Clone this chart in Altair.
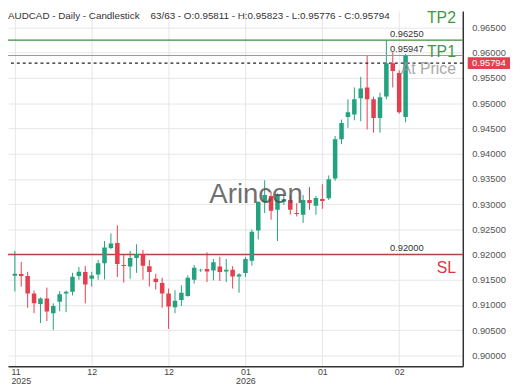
import altair as alt
import pandas as pd

# ---- data ----
opens = [0.91580, 0.91614, 0.91575, 0.91229, 0.91020, 0.91132, 0.90839, 0.91067, 0.91229, 0.91262,
         0.91575, 0.91653, 0.91522, 0.91606, 0.91828, 0.92133, 0.92230, 0.91795, 0.91762, 0.91932,
         0.92010, 0.91770, 0.91522, 0.91438, 0.91229, 0.90956, 0.91099, 0.91177, 0.91502, 0.91688,
         0.91717, 0.91684, 0.91762, 0.91665, 0.91698, 0.91567, 0.91633, 0.91879, 0.92478, 0.93050,
         0.93161, 0.92888, 0.93050, 0.93083, 0.92823, 0.92790, 0.93083, 0.92966, 0.93102, 0.93116,
         0.93506, 0.94287, 0.94728, 0.94775, 0.95099, 0.95313, 0.95079, 0.94708, 0.95132, 0.95795,
         0.95600, 0.94728]
highs = [0.92074, 0.91854, 0.91659, 0.91288, 0.91151, 0.91346, 0.91034, 0.91274, 0.91288, 0.91639,
         0.91756, 0.91776, 0.91659, 0.91893, 0.92269, 0.92420, 0.92581, 0.92010, 0.92074, 0.92205,
         0.92094, 0.91893, 0.91620, 0.91541, 0.91327, 0.91294, 0.91391, 0.91587, 0.91795, 0.91717,
         0.92043, 0.91912, 0.91957, 0.91912, 0.91770, 0.91633, 0.91957, 0.92498, 0.93050, 0.93473,
         0.93245, 0.93214, 0.93180, 0.93180, 0.93019, 0.93180, 0.93337, 0.93161, 0.93395, 0.93571,
         0.94351, 0.94677, 0.95079, 0.95313, 0.95522, 0.95940, 0.95132, 0.95210, 0.96250, 0.96010,
         0.95653, 0.95977]
lows = [0.91268, 0.91366, 0.90946, 0.90839, 0.90644, 0.90683, 0.90507, 0.90878, 0.90859, 0.91190,
        0.91502, 0.91034, 0.91366, 0.91502, 0.91508, 0.92107, 0.91555, 0.91444, 0.91522, 0.91639,
        0.91502, 0.91366, 0.91307, 0.90946, 0.90527, 0.90839, 0.90981, 0.91165, 0.91425, 0.91659,
        0.91458, 0.91489, 0.91477, 0.91458, 0.91327, 0.91243, 0.91555, 0.91781, 0.92302, 0.92823,
        0.92693, 0.92269, 0.92985, 0.92790, 0.92757, 0.92628, 0.92888, 0.92790, 0.92907, 0.93083,
        0.93463, 0.94189, 0.94513, 0.94663, 0.94644, 0.94482, 0.94416, 0.94416, 0.95079, 0.95313,
        0.94794, 0.94624]
closes = [0.91620, 0.91575, 0.91229, 0.91034, 0.91132, 0.90872, 0.90981, 0.91216, 0.91262, 0.91561,
          0.91659, 0.91405, 0.91587, 0.91828, 0.92140, 0.92219, 0.91815, 0.91776, 0.91932, 0.92010,
          0.91781, 0.91653, 0.91458, 0.91229, 0.90970, 0.91087, 0.91243, 0.91541, 0.91737, 0.91698,
          0.91665, 0.91848, 0.91653, 0.91698, 0.91567, 0.91606, 0.91912, 0.92453, 0.93050, 0.93180,
          0.92868, 0.93180, 0.93097, 0.92888, 0.92804, 0.93083, 0.93024, 0.93122, 0.93063, 0.93493,
          0.94287, 0.94611, 0.94820, 0.95079, 0.95294, 0.95079, 0.94708, 0.95118, 0.95795, 0.95639,
          0.94820, 0.95945]

tick_idx = [0, 12, 24, 36, 48, 60]
tick_lines = [["11", "2025"], ["12"], ["12"], ["01", "2026"], ["01"], ["02"]]
y_ticks = [0.900, 0.905, 0.910, 0.915, 0.920, 0.925, 0.930, 0.935, 0.940, 0.945, 0.950, 0.955, 0.960, 0.965]

tp2_price = 0.96250
tp1_price = 0.95947
sl_price = 0.92000
current_price = 0.95794
header = ("AUDCAD - Daily - Candlestick\u00a0\u00a0\u00a0 63/63 - O:0.95811 - H:0.95823 - "
          "L:0.95776 - C:0.95794")
watermark = "Arincen"

# ---- styling ----
GREEN = "#24a27f"
RED = "#e53f4f"
LINE_GREEN = "#3f8f3f"
TEXT_GREEN = "#3f9a3f"
SL_LINE = "#b3443f"
SL_TEXT = "#d9363e"
GRID = "#e6e6e6"
FONT = "Liberation Sans"

df = pd.DataFrame({"i": list(range(len(opens))), "o": opens, "h": highs, "l": lows, "c": closes})
df["dir"] = ["up" if c >= o else "down" for o, c in zip(opens, closes)]

xs = alt.Scale(domain=[-0.30, 69.16], nice=False, zero=False)
ys = alt.Scale(domain=[0.89785, 0.96829], nice=False, zero=False)

label_expr = ""
for v, lines in zip(tick_idx, tick_lines):
    arr = "[" + ",".join("'%s'" % s for s in lines) + "]"
    label_expr += "datum.value == %d ? %s : " % (v, arr)
label_expr += "''"

first_test = "datum.value == %d" % tick_idx[0]
x_axis = alt.Axis(values=tick_idx, labelExpr=label_expr, grid=True, gridColor=GRID, ticks=False,
                  title=None, domainColor="#333333", domainWidth=1.5, labelColor="#444444",
                  labelFontSize=9, labelPadding=1, labelLineHeight=9.2, labelBaseline="top",
                  labelFlush=False,
                  labelAlign={"condition": {"test": first_test, "value": "left"}, "value": "center"},
                  labelOffset={"condition": {"test": first_test, "value": -4}, "value": 0})
y_axis = alt.Axis(orient="right", values=y_ticks, format=".5f", grid=True, gridColor=GRID,
                  ticks=False, title=None, domainColor="#333333", domainWidth=1.5,
                  labelColor="#555555", labelFontSize=9.5, labelPadding=9)

color = alt.Color("dir:N", scale=alt.Scale(domain=["up", "down"], range=[GREEN, RED]), legend=None)

wicks = alt.Chart(df).mark_rule(strokeWidth=1, clip=True).encode(
    x=alt.X("i:Q", scale=xs, axis=x_axis),
    y=alt.Y("l:Q", scale=ys, axis=y_axis),
    y2="h:Q",
    color=color,
)
bodies = alt.Chart(df).mark_bar(size=4.6, clip=True).encode(
    x=alt.X("i:Q", scale=xs, axis=x_axis),
    y=alt.Y("o:Q", scale=ys, axis=y_axis),
    y2="c:Q",
    color=color,
)


def level(price):
    return alt.Chart(pd.DataFrame({"price": [price], "label": ["%.5f" % price]}))


def yenc():
    return alt.Y("price:Q", scale=ys, axis=y_axis)


tp2_line = level(tp2_price).mark_rule(color=LINE_GREEN, strokeWidth=1.2).encode(y=yenc())
tp1_line = level(tp1_price).mark_rule(color="#9a9a9a", strokeWidth=1.2).encode(y=yenc())
sl_line = level(sl_price).mark_rule(color=SL_LINE, strokeWidth=1.5).encode(y=yenc())
cur_line = level(current_price).mark_rule(color="#222222", strokeWidth=1.3, strokeDash=[3, 3]).encode(y=yenc())

value_labels = alt.layer(*[
    level(p).mark_text(align="left", baseline="alphabetic", dy=-3.5, fontSize=9.5, color="#333333").encode(
        x=alt.value(388), y=yenc(), text="label:N")
    for p in [tp2_price, tp1_price, sl_price]
])

tp2_text = level(tp2_price).mark_text(align="right", baseline="alphabetic", dy=-17.5, fontSize=16,
                                      color=TEXT_GREEN).encode(x=alt.value(455), y=yenc(), text=alt.value("TP2"))
tp1_text = level(tp1_price).mark_text(align="right", baseline="alphabetic", dy=1.7, fontSize=16,
                                      color=TEXT_GREEN).encode(x=alt.value(455), y=yenc(), text=alt.value("TP1"))
sl_text = level(sl_price).mark_text(align="right", baseline="alphabetic", dy=18.8, fontSize=16,
                                    color=SL_TEXT).encode(x=alt.value(455), y=yenc(), text=alt.value("SL"))
at_price = level(current_price).mark_text(align="right", baseline="alphabetic", dy=10.6, fontSize=16,
                                          color="#9a9a9a", opacity=0.85).encode(
    x=alt.value(455), y=yenc(), text=alt.value("At Price"))

badge = level(current_price).mark_tick(orient="horizontal", size=43, thickness=12, color="#e0434f",
                                       opacity=1).encode(x=alt.value(488.5), y=yenc())
badge_text = level(current_price).mark_text(align="center", baseline="middle", fontSize=9.5,
                                            color="white").encode(x=alt.value(488.5), y=yenc(), text="label:N")

header_text = alt.Chart(pd.DataFrame({"t": [header]})).mark_text(
    align="left", baseline="middle", fontSize=10, color="#333333").encode(
    x=alt.value(0), y=alt.value(4.8), text="t:N")

mark_text = alt.Chart(pd.DataFrame({"t": [watermark]})).mark_text(
    align="center", baseline="alphabetic", fontSize=28, color="#4d4d4d", opacity=0.8).encode(
    x=alt.value(252), y=alt.value(195.3), text="t:N")

chart = alt.layer(
    wicks, tp2_line, tp1_line, sl_line, cur_line,
    bodies,
    value_labels, tp2_text, tp1_text, sl_text, at_price,
    badge, badge_text, header_text, mark_text,
).properties(
    width=462, height=361,
    autosize=alt.AutoSizeParams(type="none"),
    padding={"left": 0, "top": 0, "right": 50, "bottom": 21},
).configure(font=FONT).configure_view(strokeWidth=0)

chart.save("out.html", embed_options={"renderer": "svg", "actions": False})
